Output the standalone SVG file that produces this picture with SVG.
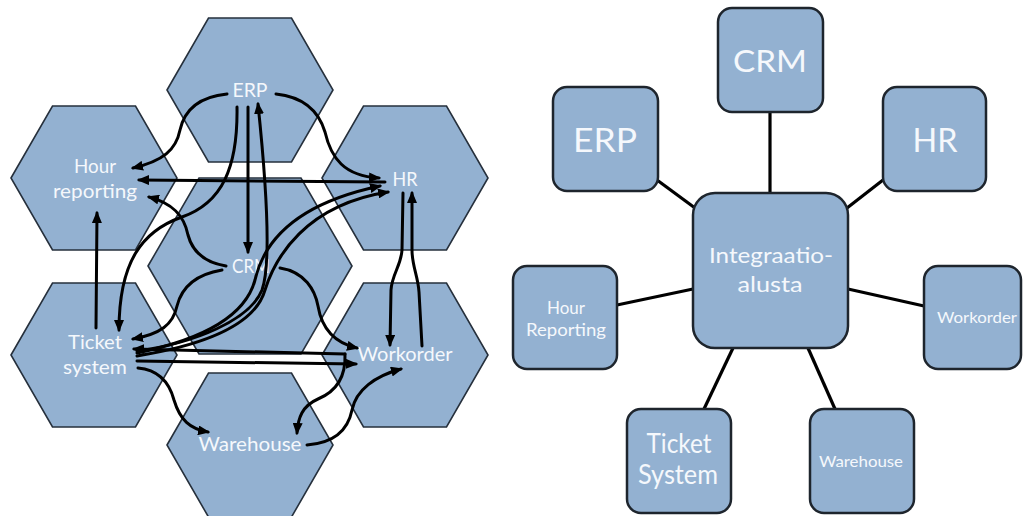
<svg xmlns="http://www.w3.org/2000/svg" width="1024" height="516" viewBox="0 0 1024 516">
  <defs>
    <style>
      .hex { fill: #93b1d1; stroke: #26303c; stroke-width: 1.6; }
      .box { fill: #93b1d1; stroke: #1e252d; stroke-width: 2.5; }
      .lbl { fill: #f5f8fc; font-family: Lato, "Open Sans", "Liberation Sans", sans-serif; text-anchor: middle; }
      .arr { fill: none; stroke: #000; stroke-width: 3; stroke-linecap: round; marker-end: url(#head); }
      .link { fill: none; stroke: #000; stroke-width: 3.2; }
    </style>
    <marker id="head" viewBox="0 0 12 10" refX="10" refY="5" markerWidth="12" markerHeight="10" markerUnits="userSpaceOnUse" orient="auto">
      <path d="M0,0 L12,5 L0,10 z" fill="#000"/>
    </marker>
  </defs>
  <rect width="1024" height="516" fill="#fff"/>

  <!-- Point-to-point integration: honeycomb of systems -->
  <g id="hex-crm">
    <polygon class="hex" points="148,266 199,178 301,178 352,266 301,354 199,354"/>
    <text class="lbl" x="251" y="273" font-size="19" textLength="38" lengthAdjust="spacingAndGlyphs">CRM</text>
  </g>
  <g id="hex-erp">
    <polygon class="hex" points="167,90 208.5,18 291.5,18 333,90 291.5,162 208.5,162"/>
    <text class="lbl" x="250" y="97" font-size="19" textLength="35" lengthAdjust="spacingAndGlyphs">ERP</text>
  </g>
  <g id="hex-hour">
    <polygon class="hex" points="11,178 52.5,106 135.5,106 177,178 135.5,250 52.5,250"/>
    <text class="lbl" x="95" y="173" font-size="19" textLength="42" lengthAdjust="spacingAndGlyphs">Hour</text>
    <text class="lbl" x="95" y="198" font-size="19" textLength="84" lengthAdjust="spacingAndGlyphs">reporting</text>
  </g>
  <g id="hex-hr">
    <polygon class="hex" points="322,178 363.5,106 446.5,106 488,178 446.5,250 363.5,250"/>
    <text class="lbl" x="405" y="186" font-size="19" textLength="25" lengthAdjust="spacingAndGlyphs">HR</text>
  </g>
  <g id="hex-ticket">
    <polygon class="hex" points="11,355 52.5,283 135.5,283 177,355 135.5,427 52.5,427"/>
    <text class="lbl" x="95" y="349" font-size="19" textLength="54" lengthAdjust="spacingAndGlyphs">Ticket</text>
    <text class="lbl" x="95" y="374" font-size="19" textLength="64" lengthAdjust="spacingAndGlyphs">system</text>
  </g>
  <g id="hex-workorder">
    <polygon class="hex" points="322,355 363.5,283 446.5,283 488,355 446.5,427 363.5,427"/>
    <text class="lbl" x="405" y="361" font-size="19" textLength="95" lengthAdjust="spacingAndGlyphs">Workorder</text>
  </g>
  <g id="hex-warehouse">
    <polygon class="hex" points="167,445 208.5,373 291.5,373 333,445 291.5,517 208.5,517"/>
    <text class="lbl" x="250" y="451" font-size="19" textLength="103" lengthAdjust="spacingAndGlyphs">Warehouse</text>
  </g>

  <g id="connectors-mesh">
    <path class="arr" d="M227,94 C197,97 184,112 180,130 C176,150 163,161 133,168"/>
    <path class="arr" d="M276,94 C304,97 319,112 325,132 C331,158 344,176 379,178"/>
    <path class="arr" d="M237,107 C238,168 222,203 182,217 C142,231 119,262 119,330"/>
    <path class="arr" d="M248,107 L248,252"/>
    <path class="arr" d="M137,351 C195,343 250,320 262,290 C270,268 268,200 258,104"/>
    <path class="arr" d="M137,353 C200,340 245,318 255,280 C263,245 290,205 380,186"/>
    <path class="arr" d="M137,356 C205,345 255,325 265,290 C275,258 305,205 388,192"/>
    <path class="arr" d="M226,266 C202,262 192,250 188,235 C184,215 172,203 149,197"/>
    <path class="arr" d="M222,270 C192,275 181,290 177,306 C173,325 160,334 133,339"/>
    <path class="arr" d="M280,268 C305,272 315,290 318,306 C322,330 335,343 357,348"/>
    <path class="arr" d="M137,361 L356,364"/>
    <path class="arr" d="M345,354 L134,349"/>
    <path class="arr" d="M345,354 C346,378 335,392 318,399 C302,406 298,418 297,433"/>
    <path class="arr" d="M138,368 C160,370 170,385 174,400 C180,420 190,429 208,432"/>
    <path class="arr" d="M307,445 C334,443 348,430 352,410 C356,390 375,376 401,369"/>
    <path class="arr" d="M403,193 L402,250 C401,266 392,274 391,290 L390,345"/>
    <path class="arr" d="M422,346 L419,292 C418,276 412,266 412,250 L412,193"/>
    <path class="arr" d="M385,182 L139,180"/>
    <path class="arr" d="M96,328 L97,213"/>
  </g>

  <!-- Hub-and-spoke integration through a shared platform -->
  <g id="connectors-hub">
    <line class="link" x1="770" y1="112" x2="770" y2="193"/>
    <line class="link" x1="657" y1="180" x2="695" y2="208"/>
    <line class="link" x1="883" y1="180" x2="847" y2="208"/>
    <line class="link" x1="617" y1="305" x2="693" y2="289"/>
    <line class="link" x1="848" y1="289" x2="924" y2="306"/>
    <line class="link" x1="704" y1="409" x2="733" y2="348"/>
    <line class="link" x1="835" y1="409" x2="808" y2="348"/>
  </g>

  <g id="box-platform">
    <rect class="box" x="693" y="193" width="155" height="155" rx="22"/>
    <text class="lbl" x="771" y="263" font-size="21" textLength="124" lengthAdjust="spacingAndGlyphs">Integraatio-</text>
    <text class="lbl" x="770" y="292" font-size="21" textLength="65" lengthAdjust="spacingAndGlyphs">alusta</text>
  </g>
  <g id="box-crm">
    <rect class="box" x="718" y="8" width="105" height="104" rx="14"/>
    <text class="lbl" x="770" y="72" font-size="31" textLength="74" lengthAdjust="spacingAndGlyphs">CRM</text>
  </g>
  <g id="box-erp">
    <rect class="box" x="553" y="87" width="105" height="104" rx="14"/>
    <text class="lbl" x="605" y="152" font-size="33" textLength="64" lengthAdjust="spacingAndGlyphs">ERP</text>
  </g>
  <g id="box-hr">
    <rect class="box" x="883" y="87" width="103" height="104" rx="14"/>
    <text class="lbl" x="935" y="152" font-size="33" textLength="45" lengthAdjust="spacingAndGlyphs">HR</text>
  </g>
  <g id="box-hour">
    <rect class="box" x="513" y="266" width="104" height="103" rx="14"/>
    <text class="lbl" x="566" y="314" font-size="18" textLength="38" lengthAdjust="spacingAndGlyphs">Hour</text>
    <text class="lbl" x="566" y="336" font-size="18" textLength="80" lengthAdjust="spacingAndGlyphs">Reporting</text>
  </g>
  <g id="box-workorder">
    <rect class="box" x="924" y="266" width="97" height="103" rx="14"/>
    <text class="lbl" x="977" y="323" font-size="16" textLength="80" lengthAdjust="spacingAndGlyphs">Workorder</text>
  </g>
  <g id="box-ticket">
    <rect class="box" x="627" y="409" width="104" height="104" rx="14"/>
    <text class="lbl" x="679" y="453" font-size="26" textLength="65" lengthAdjust="spacingAndGlyphs">Ticket</text>
    <text class="lbl" x="678" y="484" font-size="26" textLength="80" lengthAdjust="spacingAndGlyphs">System</text>
  </g>
  <g id="box-warehouse">
    <rect class="box" x="810" y="409" width="104" height="104" rx="14"/>
    <text class="lbl" x="861" y="467" font-size="15" textLength="84" lengthAdjust="spacingAndGlyphs">Warehouse</text>
  </g>
</svg>
